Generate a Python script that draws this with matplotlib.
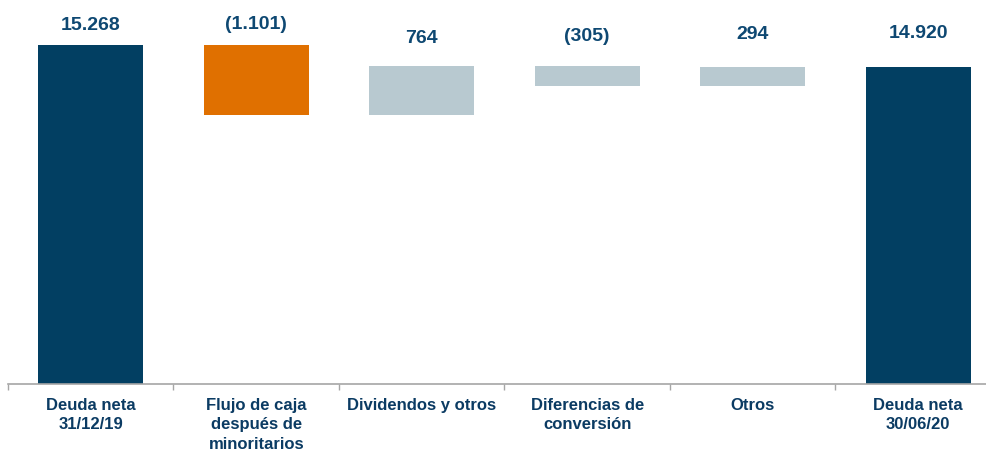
import matplotlib
matplotlib.use("Agg")
import matplotlib.pyplot as plt
from matplotlib.ticker import FixedLocator

categories = ["Deuda neta\n31/12/19", "Flujo de caja\ndespués de\nminoritarios",
              "Dividendos y otros", "Diferencias de\nconversión", "Otros",
              "Deuda neta\n30/06/20"]
start_value = 15268
deltas = [-1101, 764, -305, 294]
end_value = 14920

bar_colors = ["#023f62", "#e07000", "#b8c9d0", "#b8c9d0", "#b8c9d0", "#023f62"]
label_offsets_px = [20, 21, 28, 30, 33, 34]

def fmt(v):
    s = f"{abs(v):,}".replace(",", ".")
    return f"({s})" if v < 0 else s

fig = plt.figure(figsize=(9.87, 4.49), dpi=100)
ax = fig.add_axes([8 / 987, 65 / 449, 993 / 987, 384 / 449])

bottoms, heights, tops, labels = [], [], [], []
bottoms.append(0); heights.append(start_value); tops.append(start_value); labels.append(fmt(start_value))
level = start_value
for d in deltas:
    new = level + d
    bottoms.append(min(level, new)); heights.append(abs(d)); tops.append(max(level, new))
    labels.append(fmt(d))
    level = new
bottoms.append(0); heights.append(end_value); tops.append(end_value); labels.append(fmt(end_value))

x = list(range(len(categories)))
ax.bar(x, heights, bottom=bottoms, width=0.635, color=bar_colors, zorder=2)

ax.set_xlim(-0.5, len(categories) - 0.5)
ax.set_ylim(9906, 15980)

for xi, top, lab, off in zip(x, tops, labels, label_offsets_px):
    ax.annotate(lab, (xi, top), xytext=(0, off * 0.72), textcoords="offset points",
                ha="center", va="center", fontsize=14, fontweight="bold",
                color="#0e4872", family="Liberation Sans")

for s in ["top", "right", "left"]:
    ax.spines[s].set_visible(False)
ax.spines["bottom"].set_color("#a6a6a6")
ax.spines["bottom"].set_linewidth(1.2)
ax.set_yticks([])
ax.set_xticks(x)
ax.set_xticklabels(categories, fontsize=12, fontweight="bold", color="#0b3b63",
                   family="Liberation Sans", linespacing=1.38, va="top")
ax.tick_params(axis="x", which="major", length=0, pad=10)
ax.xaxis.set_minor_locator(FixedLocator([i - 0.5 for i in range(len(categories) + 1)]))
ax.tick_params(axis="x", which="minor", length=4, color="#a6a6a6", width=1)

fig.savefig("out.png", dpi=100)
